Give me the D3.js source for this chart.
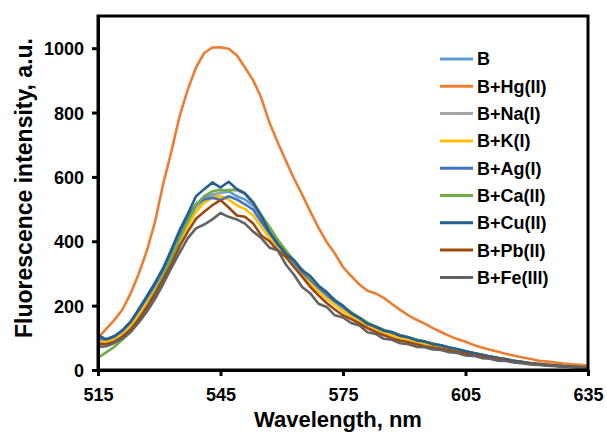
<!DOCTYPE html>
<html>
<head>
<meta charset="utf-8">
<script src="https://cdn.jsdelivr.net/npm/d3@7/dist/d3.min.js"></script>
<style>
html,body{margin:0;padding:0;background:#fff;}
svg{display:block;font-family:"Liberation Sans",Arial,sans-serif;}
</style>
</head>
<body>
<svg id="chart" width="607" height="435"></svg>
<script>
const wavelengths = d3.range(515, 636, 2);
const seriesNames = ["B","B+Hg(II)","B+Na(I)","B+K(I)","B+Ag(I)","B+Ca(II)","B+Cu(II)","B+Pb(II)","B+Fe(III)"];
const seriesColors = ["#5B9BD5","#ED7D31","#A5A5A5","#FFC000","#4472C4","#70AD47","#255E91","#9E480E","#636363"];
const xTicks = [515,545,575,605,635];
const yTicks = [0,200,400,600,800,1000];

const B   = [100,92,100,118,145,182,222,262,308,365,422,470,515,535,545,550,555,540,530,510,468,430,392,365,335,305,280,255,232,212,192,174,157,142,130,121,113,105,98,92,85,80,74,68,62,56,50,45,40,36,31,27,23,20,17,15,13,11,10,9,8];
const Hg  = [100,128,155,188,238,300,372,462,580,680,790,872,940,985,1002,1003,998,978,940,900,845,768,708,650,595,545,492,442,398,362,320,292,266,246,238,224,205,187,170,156,144,130,118,106,96,88,78,70,63,57,50,44,39,34,29,26,23,20,18,16,14];
const Na  = [93,90,97,114,140,175,214,255,300,355,410,460,505,528,540,552,560,558,548,515,478,440,400,368,338,308,282,258,235,214,194,176,159,144,131,122,114,106,99,92,86,80,74,68,62,56,51,46,41,36,32,28,24,20,17,15,13,11,10,9,8];
const K   = [88,86,94,110,135,170,208,248,294,348,400,448,492,520,535,540,530,512,500,480,445,410,378,350,322,295,268,244,222,202,183,166,150,136,124,115,107,100,93,87,81,76,70,64,58,53,48,43,38,34,30,26,22,19,17,15,13,11,10,9,8];
const Ag  = [98,96,106,122,150,186,226,266,312,368,425,475,515,530,535,528,540,530,515,498,460,425,390,362,334,305,280,256,234,214,195,178,161,146,133,124,116,108,101,94,88,82,76,70,64,58,52,47,42,37,33,29,25,21,18,16,14,12,10,9,8];
const Ca  = [38,55,72,95,118,158,198,244,292,348,408,462,512,540,555,560,558,562,550,522,482,445,405,372,340,312,286,262,240,218,198,180,163,148,135,125,117,109,102,95,88,82,76,70,64,58,53,48,42,38,33,29,25,21,18,16,14,12,10,9,8];
const Cu  = [108,95,104,124,150,190,230,272,318,375,435,485,540,562,583,567,585,562,548,520,478,428,392,360,342,310,292,262,242,216,200,176,163,143,135,122,118,106,102,92,89,80,77,70,65,58,53,47,42,37,33,28,25,21,19,16,14,12,11,9,8];
const Pb  = [82,80,88,104,126,158,195,236,282,330,385,430,470,492,512,528,505,480,476,455,418,400,372,352,320,290,258,232,208,188,170,158,145,130,118,108,99,92,86,80,74,70,66,61,56,51,46,42,37,33,29,25,22,19,17,15,13,11,10,9,8];
const Fe  = [72,74,84,98,118,148,182,222,268,318,365,410,440,452,468,488,476,468,455,430,410,380,372,328,296,258,238,206,196,170,163,146,138,117,112,97,94,83,80,72,71,64,62,55,53,45,44,37,35,29,28,23,21,17,16,13,12,10,9,8,7];

const seriesValues = [B,Hg,Na,K,Ag,Ca,Cu,Pb,Fe];

const svg = d3.select("#chart");
const L = 98, R = 588, T = 16, Bm = 370;
const x = d3.scaleLinear().domain([515,635]).range([L,R]);
const y = d3.scaleLinear().domain([0,1100]).range([Bm,T]);

svg.append("defs").append("clipPath").attr("id","clip")
  .append("rect").attr("x",L).attr("y",T).attr("width",R-L).attr("height",Bm-T);

const line = d3.line().x(d=>x(d[0])).y(d=>y(d[1]));
const g = svg.append("g").attr("clip-path","url(#clip)");
seriesValues.forEach((vals,i)=>{
  g.append("path")
    .datum(wavelengths.map((w,j)=>[w,vals[j]]))
    .attr("d",line)
    .attr("fill","none")
    .attr("stroke",seriesColors[i])
    .attr("stroke-width",2.6)
    .attr("stroke-linejoin","round")
    .attr("stroke-linecap","round");
});

svg.append("rect").attr("x",L).attr("y",T).attr("width",R-L).attr("height",Bm-T)
  .attr("fill","none").attr("stroke","#000").attr("stroke-width",3);

const xAxis = svg.append("g").attr("transform",`translate(0,${Bm})`)
  .call(d3.axisBottom(x).tickValues(xTicks).tickSize(6).tickSizeOuter(0).tickPadding(12).tickFormat(d3.format("d")));
const yAxis = svg.append("g").attr("transform",`translate(${L},0)`)
  .call(d3.axisLeft(y).tickValues(yTicks).tickSize(6).tickSizeOuter(0).tickPadding(8).tickFormat(d3.format("d")));
[xAxis,yAxis].forEach(a=>{
  a.select(".domain").attr("stroke","#000").attr("stroke-width",3);
  a.selectAll(".tick line").attr("stroke","#000").attr("stroke-width",3);
  a.selectAll(".tick text").attr("fill","#000").style("font-size","18px").style("font-weight","bold")
    .style("font-family","'Liberation Sans',Arial,sans-serif");
});
yAxis.selectAll(".tick text").attr("dy","0.36em");

svg.append("text").attr("x",338).attr("y",427).attr("text-anchor","middle")
  .style("font-size","22px").style("font-weight","bold").text("Wavelength, nm");
svg.append("text").attr("transform","translate(32,188) rotate(-90)").attr("text-anchor","middle")
  .style("font-size","23px").style("font-weight","bold").text("Fluorescence intensity, a.u.");

const leg = svg.append("g");
seriesNames.forEach((n,i)=>{
  const yy = 59 + i*27.3;
  leg.append("line").attr("x1",440).attr("x2",473).attr("y1",yy).attr("y2",yy)
    .attr("stroke",seriesColors[i]).attr("stroke-width",3);
  leg.append("text").attr("x",477).attr("y",yy).attr("dy","0.36em")
    .style("font-size","18px").style("font-weight","bold").text(n);
});
</script>
</body>
</html>
